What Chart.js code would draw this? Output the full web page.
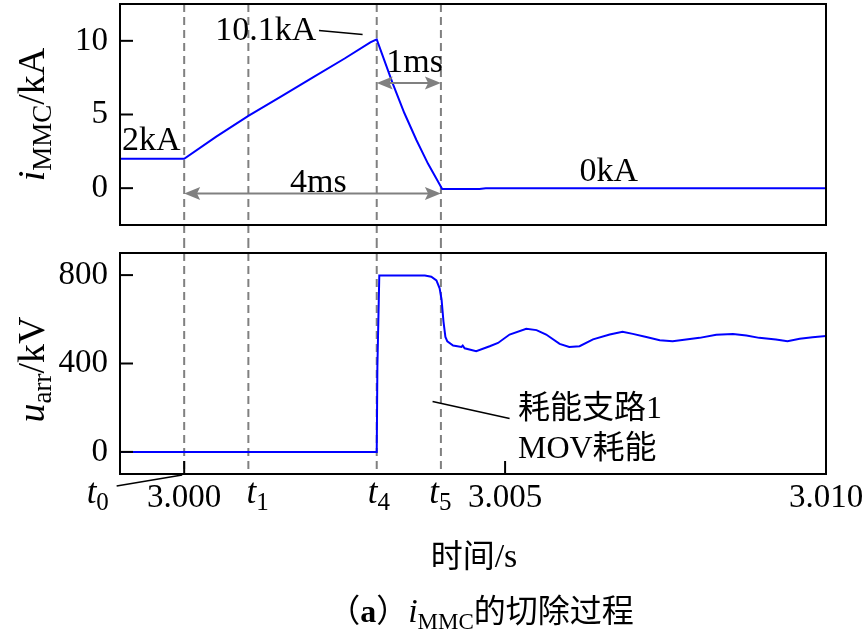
<!DOCTYPE html>
<html lang="zh-CN">
<head>
<meta charset="utf-8">
<title>iMMC的切除过程</title>
<script src="https://cdn.jsdelivr.net/npm/chart.js@4.4.1/dist/chart.umd.min.js"></script>
<style>
  html, body { margin: 0; padding: 0; background: #fff; }
  #wrap { position: relative; width: 866px; height: 632px; overflow: hidden; }
  #top-box { position: absolute; left: 0; top: 0; width: 866px; height: 240px; }
  #bot-box { position: absolute; left: 0; top: 240px; width: 866px; height: 392px; }
  canvas { display: block; }
</style>
</head>
<body>
<div id="wrap">
  <div id="top-box"><canvas id="chart-top" width="866" height="240"></canvas></div>
  <div id="bot-box"><canvas id="chart-bot" width="866" height="392"></canvas></div>
</div>
<script>
// 時間軸
const timeRange = [2.999, 3.010];
const xTicks = [3.000, 3.005, 3.010];
const markerTimes = [3.000, 3.001, 3.003, 3.004];   // t0 t1 t4 t5
const markerNames = ['0', '1', '4', '5'];

// 上圖 iMMC (kA)
const iRange = [-2.5, 12.5];
const iTicks = [0, 5, 10];
const iTime  = [2.999, 3.000, 3.0005, 3.001, 3.0015, 3.002, 3.0025, 3.0029, 3.003,
                3.00325, 3.00343, 3.00362, 3.0038, 3.00402, 3.0046, 3.0047, 3.010];
const iValue = [2.0, 2.0, 3.5, 4.9, 6.2, 7.5, 8.8, 9.9, 10.1,
                7.1, 5.1, 3.25, 1.65, -0.05, -0.05, 0.0, 0.0];

// 下圖 uarr (kV)
const uRange = [-100, 900];
const uTicks = [0, 400, 800];
const uTime  = [2.999, 3.003, 3.00301, 3.00304, 3.00375, 3.00385, 3.00393, 3.00398, 3.00401,
                3.00404, 3.00407, 3.00410, 3.00419, 3.00432, 3.00434, 3.00437, 3.00455, 3.00476,
                3.00489, 3.00507, 3.00533, 3.00549, 3.00564, 3.00585, 3.00600, 3.00616, 3.00637,
                3.00663, 3.00683, 3.00699, 3.00720, 3.00741, 3.00761, 3.00782, 3.00803, 3.00829,
                3.00855, 3.00876, 3.00896, 3.00922, 3.00940, 3.00959, 3.00979, 3.01000];
const uValue = [0, 0, 380, 798, 798, 793, 776, 740, 690,
                590, 520, 500, 481, 475, 481, 469, 456, 478,
                493, 531, 557, 551, 531, 489, 475, 478, 509,
                531, 544, 534, 520, 505, 501, 509, 516, 530,
                533, 527, 516, 509, 501, 512, 519, 524];

const SERIF = '"Liberation Serif", "Times New Roman", serif';
const CJK = '"Noto Sans CJK SC", sans-serif';
const MIX = '"Liberation Serif", "Noto Sans CJK SC", serif';
const GRAY = '#808080';

// 混合字體文字 (上下標)
function drawParts(ctx, parts, x, y, align) {
    let w = 0;
    parts.forEach(p => { ctx.font = p.font; w += ctx.measureText(p.text).width; });
    let cx = align === 'center' ? x - w / 2 : (align === 'right' ? x - w : x);
    ctx.textAlign = 'left';
    ctx.textBaseline = 'alphabetic';
    ctx.fillStyle = '#000';
    parts.forEach(p => {
        ctx.font = p.font;
        ctx.fillText(p.text, cx, y + (p.dy || 0));
        cx += ctx.measureText(p.text).width;
    });
}

function line(ctx, x1, y1, x2, y2, color, width) {
    ctx.strokeStyle = color;
    ctx.lineWidth = width;
    ctx.beginPath();
    ctx.moveTo(x1, y1);
    ctx.lineTo(x2, y2);
    ctx.stroke();
}

function arrowHead(ctx, tipX, y, dir) {
    const len = 16, half = 6.5;
    ctx.beginPath();
    ctx.moveTo(tipX, y);
    ctx.lineTo(tipX - dir * len, y - half);
    ctx.lineTo(tipX - dir * len * 0.8, y);
    ctx.lineTo(tipX - dir * len, y + half);
    ctx.closePath();
    ctx.fill();
}

function doubleArrow(ctx, x1, x2, y) {
    ctx.save();
    line(ctx, x1 + 6, y, x2 - 6, y, GRAY, 2);
    ctx.fillStyle = GRAY;
    arrowHead(ctx, x1, y, -1);
    arrowHead(ctx, x2, y, 1);
    ctx.restore();
}

function drawFrame(chart, withXTicks) {
    const ctx = chart.ctx, a = chart.chartArea;
    const ys = chart.scales.y, xs = chart.scales.x;
    ctx.save();
    ys.ticks.forEach(t => {
        const py = ys.getPixelForValue(t.value);
        line(ctx, a.left, py, a.left + 13, py, '#000', 2);
    });
    if (withXTicks) {
        xs.ticks.forEach(t => {
            const px = xs.getPixelForValue(t.value);
            line(ctx, px, a.bottom, px, a.bottom - 13, '#000', 2);
        });
    }
    ctx.strokeStyle = '#000';
    ctx.lineWidth = 2;
    ctx.strokeRect(a.left, a.top, a.right - a.left, a.bottom - a.top);
    ctx.restore();
}

function drawMarkers(chart, y1, y2) {
    const ctx = chart.ctx, xs = chart.scales.x;
    ctx.save();
    ctx.setLineDash([8, 5]);
    markerTimes.forEach(t => {
        const px = xs.getPixelForValue(t);
        line(ctx, px, y1, px, y2, GRAY, 2);
    });
    ctx.restore();
}

function yTitle(ctx, parts, x, y) {
    ctx.save();
    ctx.translate(x, y);
    ctx.rotate(-Math.PI / 2);
    drawParts(ctx, parts, 0, 0, 'center');
    ctx.restore();
}

const topDecor = {
    id: 'topDecor',
    beforeDatasetsDraw(chart) {
        drawMarkers(chart, chart.chartArea.top, chart.height);
    },
    afterDraw(chart) {
        const ctx = chart.ctx, a = chart.chartArea;
        const xs = chart.scales.x, ys = chart.scales.y;
        const X = v => xs.getPixelForValue(v), Y = v => ys.getPixelForValue(v);
        drawFrame(chart, false);
        ctx.save();
        const f = '34px ' + SERIF;
        drawParts(ctx, [{ text: '2kA', font: f }], a.left + 2, Y(2.57), 'left');
        drawParts(ctx, [{ text: '10.1kA', font: f }], X(3.00206), Y(10.07), 'right');
        line(ctx, X(3.00210), Y(10.7), X(3.00278), Y(10.43), '#000', 1.5);
        drawParts(ctx, [{ text: '1ms', font: f }], X(3.00359), Y(7.89), 'center');
        doubleArrow(ctx, X(3.003), X(3.004), Y(7.14));
        drawParts(ctx, [{ text: '4ms', font: f }], X(3.00209), Y(-0.25), 'center');
        doubleArrow(ctx, X(3.000), X(3.004), Y(-0.36));
        drawParts(ctx, [{ text: '0kA', font: f }], X(3.00616), Y(0.52), 'left');
        yTitle(ctx, [
            { text: 'i', font: 'italic 38px ' + SERIF },
            { text: 'MMC', font: '27px ' + SERIF, dy: 7 },
            { text: '/kA', font: '38px ' + SERIF }
        ], 44, (a.top + a.bottom) / 2);
        ctx.restore();
    }
};

const botDecor = {
    id: 'botDecor',
    beforeDatasetsDraw(chart) {
        drawMarkers(chart, 0, chart.chartArea.bottom);
    },
    afterDraw(chart) {
        const ctx = chart.ctx, a = chart.chartArea;
        const xs = chart.scales.x, ys = chart.scales.y;
        const X = v => xs.getPixelForValue(v), Y = v => ys.getPixelForValue(v);
        drawFrame(chart, true);
        ctx.save();
        // t0 t1 t4 t5
        const labelLeft = [2.99848, 3.00097, 3.00286, 3.00382];
        const tBase = a.bottom + 29;
        markerNames.forEach((n, k) => {
            drawParts(ctx, [
                { text: 't', font: 'italic 35px ' + SERIF },
                { text: n, font: '25px ' + SERIF, dy: 7 }
            ], X(labelLeft[k]), tBase, 'left');
        });
        line(ctx, X(2.99848) + 30, a.bottom + 12, X(3.000) - 2, a.bottom + 1, '#000', 1.5);
        // 耗能支路1 MOV耗能
        const f = '32px ' + MIX;
        drawParts(ctx, [{ text: '耗能支路1', font: f }], X(3.00520), Y(155), 'left');
        drawParts(ctx, [{ text: 'MOV耗能', font: f }], X(3.00520), Y(-26), 'left');
        line(ctx, X(3.00387), Y(228), X(3.00507), Y(151), '#000', 1.5);
        yTitle(ctx, [
            { text: 'u', font: 'italic 38px ' + SERIF },
            { text: 'arr', font: '27px ' + SERIF, dy: 7 },
            { text: '/kV', font: '38px ' + SERIF }
        ], 44, (a.top + a.bottom) / 2 + 6);
        // 軸標題與圖說
        drawParts(ctx, [
            { text: '时间', font: '32px ' + CJK },
            { text: '/s', font: '34px ' + SERIF }
        ], 474, a.bottom + 93, 'center');
        drawParts(ctx, [
            { text: '（', font: '32px ' + CJK },
            { text: 'a', font: 'bold 32px ' + SERIF },
            { text: '）', font: '32px ' + CJK },
            { text: 'i', font: 'italic 34px ' + SERIF },
            { text: 'MMC', font: '23px ' + SERIF, dy: 7 },
            { text: '的切除过程', font: '32px ' + CJK }
        ], 481, a.bottom + 148, 'center');
        ctx.restore();
    }
};

function yScale(range, ticks) {
    return {
        min: range[0],
        max: range[1],
        afterBuildTicks: s => { s.ticks = ticks.map(v => ({ value: v })); },
        afterFit: s => { s.width = 120; s.paddingTop = 0; s.paddingBottom = 0; },
        grid: { display: false, drawTicks: false },
        border: { display: false },
        ticks: { color: '#000', padding: 12, font: { family: SERIF, size: 33 } }
    };
}

function series(times, values) {
    return [{
        data: times.map((t, k) => ({ x: t, y: values[k] })),
        borderColor: '#0000ff',
        borderWidth: 2,
        pointRadius: 0,
        tension: 0
    }];
}

const common = {
    responsive: false,
    animation: false,
    events: [],
    plugins: { legend: { display: false }, tooltip: { enabled: false } }
};

new Chart(document.getElementById('chart-top'), {
    type: 'line',
    data: { datasets: series(iTime, iValue) },
    options: Object.assign({}, common, {
        layout: { padding: { left: 0, right: 40, top: 4, bottom: 15 } },
        scales: {
            x: { type: 'linear', min: timeRange[0], max: timeRange[1], display: false },
            y: yScale(iRange, iTicks)
        }
    }),
    plugins: [topDecor]
});

new Chart(document.getElementById('chart-bot'), {
    type: 'line',
    data: { datasets: series(uTime, uValue) },
    options: Object.assign({}, common, {
        layout: { padding: { left: 0, right: 40, top: 13, bottom: 0 } },
        scales: {
            x: {
                type: 'linear',
                min: timeRange[0],
                max: timeRange[1],
                afterBuildTicks: s => { s.ticks = xTicks.map(v => ({ value: v })); },
                afterFit: s => { s.height = 158; s.paddingLeft = 0; s.paddingRight = 0; },
                grid: { display: false, drawTicks: false },
                border: { display: false },
                ticks: {
                    color: '#000', padding: 5, maxRotation: 0, autoSkip: false,
                    font: { family: SERIF, size: 33 },
                    callback: v => v.toFixed(3)
                }
            },
            y: yScale(uRange, uTicks)
        }
    }),
    plugins: [botDecor]
});
</script>
</body>
</html>
